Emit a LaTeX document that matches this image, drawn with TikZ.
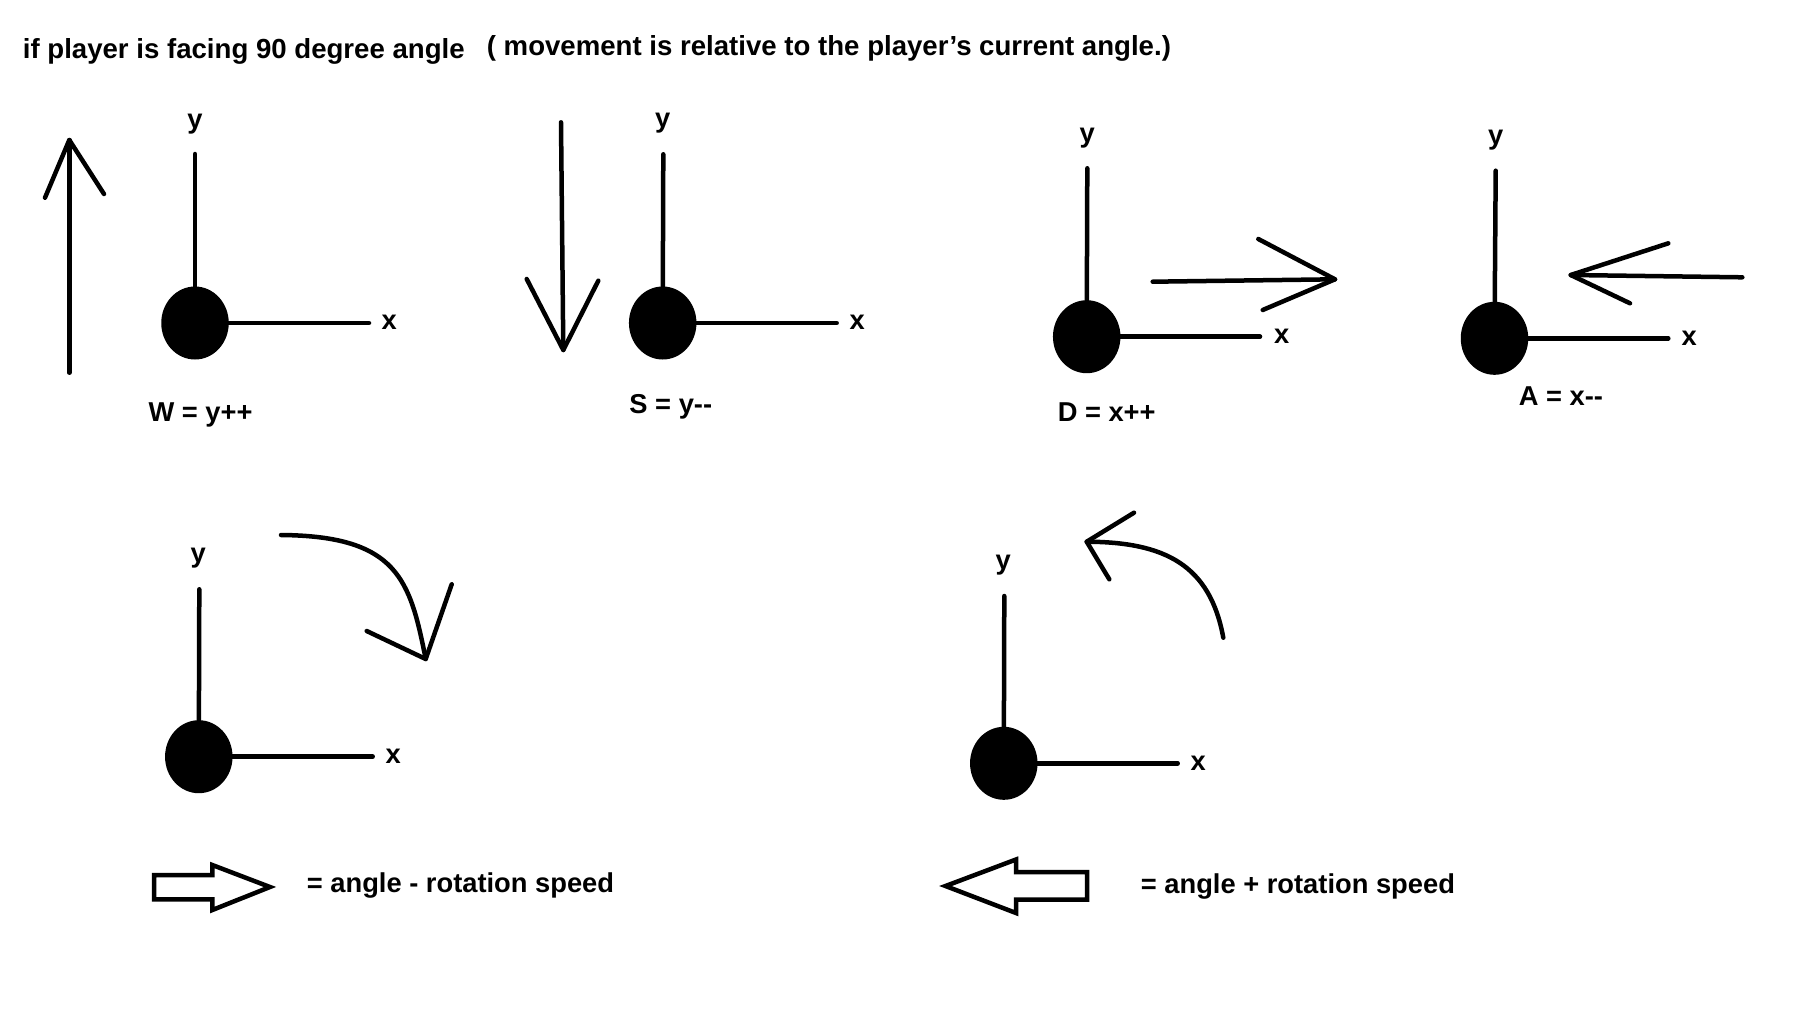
\documentclass[tikz,border=0pt]{standalone}
\usepackage{fontspec}
\setmainfont{Liberation Sans}
\usetikzlibrary{shapes.geometric}
\newcommand{\hy}{\hbox{-}}
\begin{document}
\begin{tikzpicture}[x=1pt,y=-1pt,
  ln/.style={line width=4.5pt,line cap=round,line join=round},
  blk/.style={line width=4.5pt,line join=miter},
  lbl/.style={font=\fontsize{27.3}{33}\selectfont\bfseries,inner sep=0pt},
  ttl/.style={font=\fontsize{27.6}{33}\selectfont\bfseries,inner sep=0pt},
  player/.style={ellipse,fill=black,minimum width=67.5pt,minimum height=73pt,inner sep=0pt}]
\useasboundingbox[fill=white] (0,0) rectangle (1796,1012);

% title
\node[ttl,anchor=base west] (t1) at (22.7,58) {if player is facing 90 degree angle};
\node[ttl,anchor=base west] (t2) at (486.7,55) {( movement is relative to the player’s current angle.)};

% ---------- W ----------
\node[player] (p1) at (195,323) {};
\coordinate (p1y) at (195,154);
\coordinate (p1x) at (369,323);
\draw[ln] (p1.center) -- (p1y);
\draw[ln] (p1.center) -- (p1x);
\node[lbl] (x1) at (389.3,322.5) {x};
\node[lbl] (y1) at (195,124) {y};
\coordinate (w0) at (69.3,372.7);
\coordinate (w1) at (69.3,140);
\coordinate (wl) at (45,197.7);
\coordinate (wr) at (104,194);
\draw[ln] (w0) -- (w1);
\draw[ln] (wl) -- (w1) -- (wr);
\node[lbl,anchor=base] (lw) at (200.5,421.7) {W = y++};

% ---------- S ----------
\node[player] (p2) at (662.7,323) {};
\coordinate (p2y) at (663.3,154.3);
\coordinate (p2x) at (836.7,323);
\draw[ln] (p2.center) -- (p2y);
\draw[ln] (p2.center) -- (p2x);
\node[lbl] (x2) at (857.3,322.5) {x};
\node[lbl] (y2) at (662.7,123.3) {y};
\coordinate (s0) at (561,122.3);
\coordinate (s1) at (563.3,350);
\coordinate (sl) at (526.7,279);
\coordinate (sr) at (598.3,280.7);
\draw[ln] (s0) -- (s1);
\draw[ln] (sl) -- (s1) -- (sr);
\node[lbl,anchor=base] (ls) at (670.8,413.3) {S = y\hy\hy};

% ---------- D ----------
\node[player] (p3) at (1086.7,336.7) {};
\coordinate (p3y) at (1087.3,168.3);
\coordinate (p3x) at (1260,336.7);
\draw[ln] (p3.center) -- (p3y);
\draw[ln] (p3.center) -- (p3x);
\node[lbl] (x3) at (1281.7,336.7) {x};
\node[lbl] (y3) at (1087.3,138.3) {y};
\coordinate (d0) at (1152.7,281.7);
\coordinate (d1) at (1335,279.3);
\coordinate (dl) at (1258.3,239);
\coordinate (dr) at (1262.7,310);
\draw[ln] (d0) -- (d1);
\draw[ln] (dl) -- (d1) -- (dr);
\node[lbl,anchor=base] (ld) at (1106.7,421.7) {D = x++};

% ---------- A ----------
\node[player] (p4) at (1494.5,338.3) {};
\coordinate (p4y) at (1495.7,170.7);
\coordinate (p4x) at (1668.3,338.3);
\draw[ln] (p4.center) -- (p4y);
\draw[ln] (p4.center) -- (p4x);
\node[lbl] (x4) at (1689.3,338.3) {x};
\node[lbl] (y4) at (1495.7,140) {y};
\coordinate (a0) at (1742.3,277.3);
\coordinate (a1) at (1570.7,275);
\coordinate (al) at (1668.3,243.3);
\coordinate (ar) at (1630,303.3);
\draw[ln] (a0) -- (a1);
\draw[ln] (al) -- (a1) -- (ar);
\node[lbl,anchor=base] (la) at (1561,405) {A = x\hy\hy};

% ---------- rotate right ----------
\node[player] (p5) at (198.8,756.7) {};
\coordinate (p5y) at (199.3,589.3);
\coordinate (p5x) at (372.7,756.7);
\draw[ln] (p5.center) -- (p5y);
\draw[ln] (p5.center) -- (p5x);
\node[lbl] (x5) at (393.3,756.7) {x};
\node[lbl] (y5) at (198.3,557.8) {y};
\coordinate (r0) at (281,535);
\coordinate (r1) at (425.7,659);
\coordinate (rl) at (366.7,631);
\coordinate (rr) at (451.7,584.3);
\draw[ln] (r0) .. controls (398,536) and (410,580) .. (r1);
\draw[ln] (rl) -- (r1) -- (rr);

% ---------- rotate left ----------
\node[player] (p6) at (1003.8,763.3) {};
\coordinate (p6y) at (1004.3,596);
\coordinate (p6x) at (1177.7,763.3);
\draw[ln] (p6.center) -- (p6y);
\draw[ln] (p6.center) -- (p6x);
\node[lbl] (x6) at (1198.3,763.3) {x};
\node[lbl] (y6) at (1003.3,565) {y};
\coordinate (q0) at (1223.3,637.7);
\coordinate (q1) at (1086.7,541.7);
\coordinate (ql) at (1134,512.7);
\coordinate (qr) at (1109.3,579.3);
\draw[ln] (q0) .. controls (1210,565) and (1165,542) .. (q1);
\draw[ln] (ql) -- (q1) -- (qr);

% ---------- legend ----------
\draw[blk] (154,875) -- (212.3,875) -- (212.3,865) -- (270,887) -- (212.3,910) -- (212.3,899.3) -- (154,899.3) -- cycle;
\node[lbl,anchor=base west] (leg1) at (306.7,892.5) {= angle - rotation speed};
\draw[blk] (945.5,886) -- (1016,859.5) -- (1016,872) -- (1087,872) -- (1087,899.5) -- (1016,899.5) -- (1016,913) -- cycle;
\node[lbl,anchor=base west] (leg2) at (1140.7,893.5) {= angle + rotation speed};
\end{tikzpicture}
\end{document}
